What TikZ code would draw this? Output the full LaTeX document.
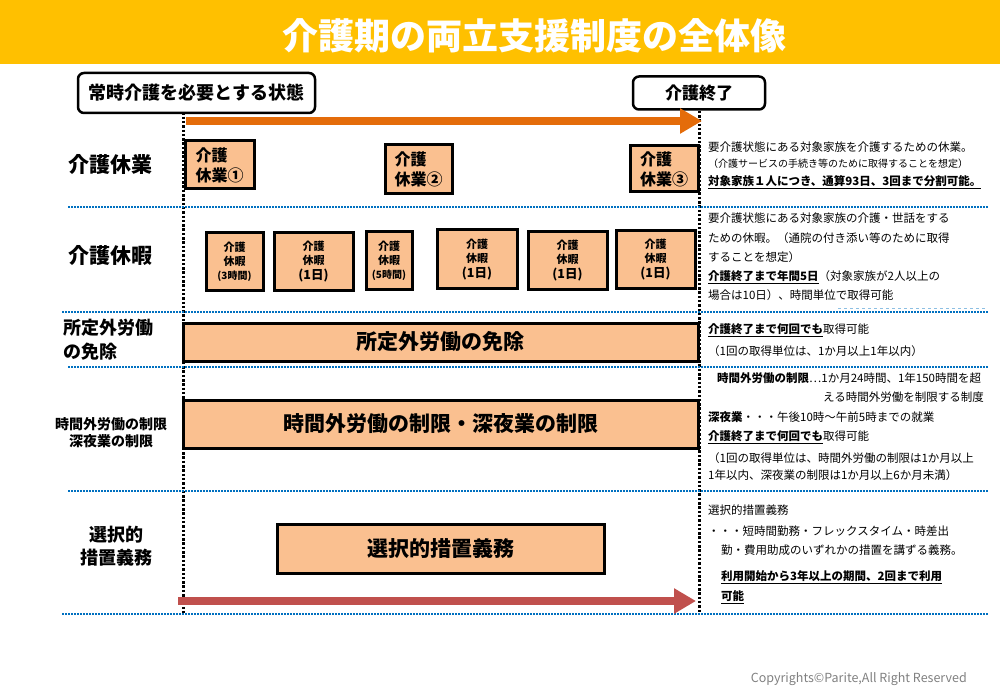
\documentclass[tikz,border=0pt]{standalone}
\usepackage{fontspec}
\setmainfont{Noto Sans CJK JP}
\usetikzlibrary{arrows.meta}
\definecolor{banner}{HTML}{FFC000}
\definecolor{boxfill}{HTML}{FAC090}
\definecolor{sepblue}{HTML}{0070C0}
\definecolor{arrorange}{HTML}{E46C0A}
\definecolor{arrred}{HTML}{C0504D}
\newcommand{\fs}[2]{\fontsize{#1}{#2}\selectfont}
\newcommand{\bu}[1]{\textbf{\underline{#1}}}

\begin{document}
\begin{tikzpicture}[x=1pt,y=-1pt,
  stage/.style={draw,line width=2.5pt,rounded corners=6pt,fill=white,inner sep=0pt,font=\bfseries\fs{18}{18}},
  period/.style={draw,line width=3pt,fill=boxfill,inner sep=0pt,font=\bfseries\fs{21}{21}},
  leave/.style={period,align=left,font=\bfseries\fs{16}{20}},
  dayoff/.style={period,align=center,font=\bfseries\fs{11}{14}},
  rowlabel/.style={inner sep=0pt,align=center,font=\bfseries\fs{21}{21}},
  note/.style={anchor=west,inner sep=0pt,font=\fs{11.5}{11.5}},
  vline/.style={line width=3pt,dash pattern=on 2.5pt off 1.8pt},
  sep/.style={sepblue,line width=2pt,dash pattern=on 2pt off 1pt},
  bigarrow/.style={line width=7.5pt,-{Triangle[length=22pt,width=24pt]}}]
  \useasboundingbox (0,0) rectangle (1000,692);

  \fill [banner] (0,0) rectangle (1000,64);
  \node [text=white,font=\bfseries\fs{36}{36}] (title) at (534,36) {介護期の両立支援制度の全体像};

  \draw [vline] (183,78) -- (183,613);
  \node [stage,minimum width=237pt,minimum height=40pt] (jotai) at (196.5,93) {常時介護を必要とする状態};
  \node [stage,font=\bfseries\fs{17}{17},minimum width=132pt,minimum height=33pt] (owari) at (699,93) {介護終了};
  \draw [vline] (owari.south) -- (699,613);

  \coordinate (ostart) at (186,121);
  \coordinate (oend) at (702,121);
  \draw [bigarrow,arrorange] (ostart) -- (oend);

  \draw [sep] (68,207) -- (988,207);
  \draw [sepblue!45,line width=0.6pt,dashed] (838,308) -- (987,308);
  \draw [sep] (62,312) -- (988,312);
  \draw [sep] (68,367) -- (988,367);
  \draw [sep] (68,491) -- (988,491);
  \draw [sep] (62,614) -- (988,614);

  \node [rowlabel] (lkyugyo) at (110,165) {介護休業};
  \node [rowlabel] (lkyuka) at (110,256) {介護休暇};
  \node [rowlabel,anchor=west,align=left,font=\bfseries\fs{18}{24}] (lmenjo) at (63,340) {所定外労働\\の免除};
  \node [rowlabel,font=\bfseries\fs{14}{17}] (lseigen) at (111,433) {時間外労働の制限\\深夜業の制限};
  \node [rowlabel,font=\bfseries\fs{18}{23}] (lsentaku) at (116,546) {選択的\\措置義務};

  \node [leave,minimum width=69pt,minimum height=48pt] (kyugyo1) at (219.5,165) {介護\\休業①};
  \node [leave,minimum width=67pt,minimum height=49pt] (kyugyo2) at (418.5,169.5) {介護\\休業②};
  \node [leave,minimum width=68pt,minimum height=46pt] (kyugyo3) at (664,169) {介護\\休業③};

  \node [dayoff,minimum width=57pt,minimum height=58pt] (kyuka1) at (234.5,262) {介護\\休暇\\{\fs{10}{14}(3時間)}};
  \node [dayoff,minimum width=79pt,minimum height=58pt] (kyuka2) at (313.5,262) {介護\\休暇\\[1pt]{\fs{12.5}{14}(1日)}};
  \node [dayoff,minimum width=46pt,minimum height=58pt] (kyuka3) at (389,261) {介護\\休暇\\{\fs{10}{14}(5時間)}};
  \node [dayoff,minimum width=80pt,minimum height=59pt] (kyuka4) at (477,259.5) {介護\\休暇\\[1pt]{\fs{12.5}{14}(1日)}};
  \node [dayoff,minimum width=79pt,minimum height=58pt] (kyuka5) at (567.5,261) {介護\\休暇\\[1pt]{\fs{12.5}{14}(1日)}};
  \node [dayoff,minimum width=79pt,minimum height=58pt] (kyuka6) at (655.5,260) {介護\\休暇\\[1pt]{\fs{12.5}{14}(1日)}};

  \node [period,minimum width=515pt,minimum height=38pt] (menjo) at (440.5,342) {所定外労働の免除};
  \node [period,minimum width=515pt,minimum height=48pt] (seigen) at (440.5,424) {時間外労働の制限・深夜業の制限};
  \node [period,minimum width=327pt,minimum height=49pt] (sentaku) at (440.5,548.5) {選択的措置義務};

  \coordinate (rstart) at (178,601);
  \coordinate (rend) at (696,601);
  \draw [bigarrow,arrred] (rstart) -- (rend);

  \node [note] (n1) at (708,147) {要介護状態にある対象家族を介護するための休業。};
  \node [note,font=\fs{10}{10}] (n2) at (708,164) {（介護サービスの手続き等のために取得することを想定）};
  \node [note] (n3) at (708,182) {\bu{対象家族１人につき、通算93日、3回まで分割可能。}};
  \node [note] (n4) at (708,218) {要介護状態にある対象家族の介護・世話をする};
  \node [note] (n5) at (708,238) {ための休暇。（通院の付き添い等のために取得};
  \node [note] (n6) at (708,257) {することを想定）};
  \node [note] (n7) at (708,277) {\bu{介護終了まで年間5日}（対象家族が2人以上の};
  \node [note] (n8) at (708,295) {場合は10日）、時間単位で取得可能};

  \node [note] (n9) at (708,330) {\bu{介護終了まで何回でも}取得可能};
  \node [note] (n10) at (708,351) {（1回の取得単位は、1か月以上1年以内）};
  \node [note] (n11) at (717,378) {\textbf{時間外労働の制限}…1か月24時間、1年150時間を超};
  \node [note,anchor=east] (n12) at (984,397) {える時間外労働を制限する制度};
  \node [note] (n13) at (708,417) {\textbf{深夜業}・・・午後10時～午前5時までの就業};
  \node [note] (n14) at (708,437) {\bu{介護終了まで何回でも}取得可能};
  \node [note] (n15) at (708,458) {（1回の取得単位は、時間外労働の制限は1か月以上};
  \node [note] (n16) at (708,475) {1年以内、深夜業の制限は1か月以上6か月未満）};

  \node [note] (n17) at (708,510) {選択的措置義務};
  \node [note] (n18) at (708,531) {・・・短時間勤務・フレックスタイム・時差出};
  \node [note] (n19) at (721,550) {勤・費用助成のいずれかの措置を講ずる義務。};
  \node [note] (n20) at (721,577) {\bu{利用開始から3年以上の期間、2回まで利用}};
  \node [note] (n21) at (721,597) {\bu{可能}};

  \node [note,anchor=east,text=black!50,font=\fs{12.5}{12.5}] (copy) at (967,679) {Copyrights©Parite,All Right Reserved};
\end{tikzpicture}
\end{document}
